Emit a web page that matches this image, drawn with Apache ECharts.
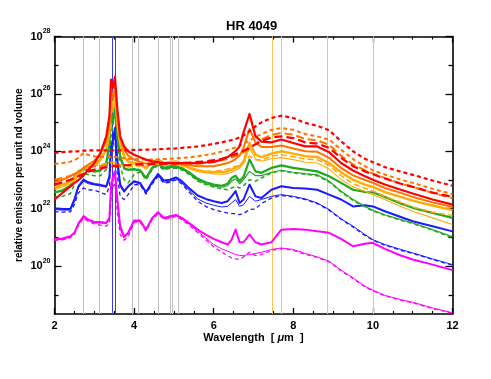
<!DOCTYPE html>
<html>
<head>
<meta charset="utf-8">
<script src="https://cdn.jsdelivr.net/npm/echarts@6/dist/echarts.min.js"></script>
<style>
html,body{margin:0;padding:0;background:#fff;}
#chart{width:491px;height:379px;}
</style>
</head>
<body>
<div id="chart"></div>
<script>
// Wavelength grid (micron)
const wavelength = [2.0,2.2,2.4,2.5,2.6,2.73,2.85,3.0,3.15,3.3,
  3.38,3.42,3.47,3.52,3.58,3.65,3.75,3.85,4.0,
  4.15,4.3,4.45,4.6,4.75,4.9,5.05,5.2,5.4,5.6,5.8,
  6.0,6.2,6.35,6.45,6.55,6.65,6.75,6.9,7.05,7.2,
  7.45,7.7,8.0,8.3,8.6,8.9,9.2,9.5,
  9.8,10.0,10.3,10.7,11.0,11.5,12.0];

// log10 of relative emission per unit volume
const redDotted = [23.94,23.97,23.99,24.00,24.00,24.02,24.03,24.03,24.03,24.03,
  24.03,24.03,24.03,24.03,24.03,24.03,24.03,24.03,24.05,
  24.05,24.06,24.06,24.07,24.08,24.09,24.10,24.12,24.14,24.17,24.21,
  24.26,24.31,24.36,24.39,24.43,24.48,24.55,24.70,24.87,25.01,
  25.16,25.24,25.16,24.99,24.89,24.73,24.35,24.00,
  23.74,23.62,23.45,23.29,23.18,22.98,22.80];
const redDashed = [22.84,22.92,23.01,23.07,23.13,23.22,23.29,23.36,23.41,23.44,
  23.45,23.47,23.48,23.48,23.49,23.50,23.51,23.52,23.54,
  23.55,23.55,23.56,23.56,23.57,23.57,23.58,23.59,23.61,23.63,23.65,
  23.69,23.74,23.80,23.85,23.90,23.95,24.02,24.13,24.24,24.35,
  24.48,24.52,24.46,24.31,24.27,24.12,23.77,23.48,
  23.30,23.20,23.05,22.87,22.76,22.56,22.41];
const redSolid = [22.32,22.55,22.78,22.90,22.99,23.16,23.36,23.59,23.92,24.52,
  25.22,26.50,26.21,26.59,25.45,24.52,24.17,24.00,23.88,
  23.79,23.71,23.65,23.62,23.59,23.59,23.59,23.59,23.59,23.59,23.61,
  23.63,23.71,23.80,23.90,24.01,24.17,24.66,25.30,24.52,24.34,
  24.31,24.41,24.29,24.17,24.17,23.97,23.59,23.33,
  23.13,23.01,22.84,22.66,22.53,22.32,22.14];
const orangeDotted = [23.56,23.59,23.64,23.69,23.77,23.94,23.87,23.83,23.80,23.80,
  23.80,23.80,23.80,23.80,23.79,23.78,23.76,23.74,23.73,
  23.72,23.71,23.71,23.72,23.73,23.74,23.76,23.77,23.79,23.83,23.87,
  23.92,23.99,24.05,24.09,24.14,24.20,24.27,24.38,24.50,24.60,
  24.75,24.81,24.75,24.60,24.52,24.41,24.06,23.73,
  23.48,23.34,23.19,23.01,22.90,22.69,22.51];
const orangeDashed = [23.01,23.07,23.15,23.21,23.28,23.40,23.44,23.48,23.49,23.50,
  23.50,23.50,23.51,23.51,23.51,23.51,23.52,23.52,23.52,
  23.52,23.52,23.54,23.54,23.54,23.54,23.55,23.55,23.56,23.57,23.59,
  23.63,23.69,23.73,23.78,23.83,23.88,23.97,24.09,24.26,24.41,
  24.57,24.64,24.58,24.43,24.38,24.23,23.85,23.54,
  23.34,23.22,23.07,22.87,22.76,22.55,22.37];
const orangeSolid = [22.92,23.01,23.13,23.21,23.28,23.42,23.54,23.67,23.91,24.35,
  24.99,26.15,25.86,26.29,25.28,24.46,24.06,23.85,23.71,
  23.63,23.57,23.59,23.62,23.57,23.59,23.59,23.55,23.51,23.48,23.48,
  23.48,23.54,23.59,23.65,23.73,23.85,24.12,24.78,24.31,24.15,
  24.15,24.20,24.10,24.00,23.98,23.77,23.42,23.16,
  23.00,22.90,22.72,22.55,22.41,22.22,22.06];
const yellowThick = [22.76,22.84,22.96,23.07,23.25,23.42,23.48,23.54,23.71,24.06,
  24.64,25.80,25.51,25.97,24.99,24.29,23.83,23.65,23.59,
  23.57,23.42,23.62,23.71,23.59,23.63,23.65,23.56,23.42,23.34,23.29,
  23.27,23.27,23.30,23.36,23.42,23.48,23.65,24.29,23.88,23.80,
  23.92,24.00,23.92,23.83,23.80,23.59,23.27,23.01,
  22.84,22.76,22.58,22.41,22.28,22.11,21.95];
const yellowThin = [22.66,22.76,22.87,22.99,23.15,23.36,23.42,23.48,23.65,24.00,
  24.52,25.63,25.34,25.80,24.81,24.17,23.77,23.62,23.56,
  23.54,23.38,23.57,23.65,23.56,23.59,23.62,23.52,23.38,23.29,23.25,
  23.21,23.20,23.22,23.27,23.34,23.41,23.57,24.12,23.73,23.65,
  23.74,23.78,23.71,23.62,23.59,23.38,23.01,22.76,
  22.61,22.49,22.32,22.08,21.91,21.68,21.45];
const yellowDashed = [22.71,22.80,22.92,23.04,23.19,23.38,23.44,23.50,23.54,23.57,
  23.59,23.62,23.63,23.63,23.59,23.54,23.48,23.45,23.48,
  23.50,23.48,23.54,23.57,23.54,23.55,23.56,23.50,23.42,23.34,23.30,
  23.30,23.34,23.38,23.42,23.48,23.50,23.59,23.83,23.71,23.69,
  23.83,23.88,23.81,23.73,23.71,23.50,23.15,22.87,
  22.71,22.62,22.43,22.22,22.06,21.88,21.76];
const greenThick = [22.57,22.64,22.80,23.11,23.30,23.38,23.36,23.30,23.34,23.59,
  24.29,25.28,25.04,25.74,24.64,23.83,23.42,23.36,23.38,
  23.34,23.07,23.42,23.59,23.42,23.48,23.48,23.42,23.25,23.04,22.92,
  22.84,22.80,22.87,23.07,23.15,22.96,23.11,23.71,23.30,23.25,
  23.42,23.51,23.42,23.36,23.30,23.13,22.90,22.66,
  22.58,22.57,22.41,22.18,22.03,21.85,21.68];
const greenThin = [22.55,22.62,22.78,23.07,23.27,23.36,23.34,23.28,23.30,23.56,
  24.23,25.16,24.93,25.63,24.52,23.73,23.38,23.34,23.36,
  23.32,23.05,23.38,23.55,23.38,23.44,23.44,23.38,23.21,22.99,22.87,
  22.78,22.75,22.80,22.96,23.04,22.87,23.01,23.30,23.15,23.15,
  23.27,23.34,23.27,23.22,23.18,22.96,22.61,22.32,
  22.08,21.94,21.79,21.62,21.50,21.27,21.02];
const greenDashed = [22.41,22.43,22.53,22.84,23.07,23.22,23.19,23.15,23.15,23.36,
  23.83,24.52,24.99,25.22,24.29,23.48,23.01,22.90,23.19,
  23.28,23.01,23.35,23.51,23.35,23.41,23.41,23.35,23.18,22.96,22.84,
  22.75,22.69,22.66,22.72,22.78,22.72,22.80,23.01,22.96,23.07,
  23.25,23.32,23.25,23.20,23.15,22.93,22.58,22.29,
  22.06,21.92,21.77,21.60,21.48,21.25,20.99];
const blueThick = [22.01,21.99,21.99,22.32,22.78,23.01,22.92,22.86,22.83,22.78,
  23.13,24.17,24.41,24.81,23.71,22.84,22.61,22.78,22.96,
  22.90,22.57,22.92,23.21,22.98,23.01,23.09,22.96,22.69,22.46,22.34,
  22.26,22.20,22.26,22.43,22.61,22.20,22.32,22.84,22.43,22.37,
  22.66,22.78,22.72,22.70,22.66,22.49,22.32,22.08,
  22.12,22.08,21.91,21.71,21.56,21.39,21.21];
const blueThin = [21.97,21.95,21.95,22.26,22.72,22.96,22.87,22.83,22.79,22.75,
  23.01,23.94,24.17,24.64,23.48,22.78,22.57,22.75,22.92,
  22.86,22.55,22.89,23.15,22.92,22.96,23.04,22.90,22.61,22.34,22.20,
  22.12,22.06,22.08,22.20,22.32,22.08,22.14,22.43,22.26,22.32,
  22.43,22.49,22.43,22.34,22.20,21.97,21.65,21.39,
  21.10,20.92,20.75,20.58,20.46,20.25,20.05];
const blueDashed = [21.90,21.88,21.89,22.14,22.55,22.72,22.66,22.64,22.57,22.49,
  22.78,23.83,24.64,24.41,23.13,22.43,22.32,22.49,22.84,
  22.83,22.51,22.85,23.12,22.89,22.92,23.00,22.86,22.55,22.26,22.08,
  21.97,21.89,21.85,21.83,21.83,21.79,21.83,21.97,21.99,22.18,
  22.37,22.46,22.41,22.32,22.18,21.95,21.63,21.36,
  21.07,20.90,20.73,20.55,20.44,20.23,20.03];
const magentaThick = [20.95,20.96,21.04,21.16,21.48,21.74,21.62,21.54,21.54,21.50,
  21.68,22.78,23.13,23.30,22.32,21.39,21.02,21.16,21.59,
  21.59,21.27,21.67,21.88,21.68,21.74,21.78,21.68,21.48,21.27,21.10,
  20.95,20.83,20.75,20.92,21.27,20.83,20.83,21.10,20.83,20.75,
  20.83,21.27,21.29,21.27,21.21,21.16,20.95,20.69,
  20.78,20.81,20.60,20.37,20.23,20.05,19.86];
const magentaThin = [20.92,20.93,21.02,21.13,21.45,21.70,21.59,21.50,21.50,21.47,
  21.62,22.66,22.96,23.13,22.20,21.29,20.97,21.12,21.55,
  21.55,21.24,21.63,21.84,21.64,21.70,21.75,21.64,21.45,21.21,20.98,
  20.75,20.60,20.52,20.46,20.40,20.37,20.37,20.40,20.44,20.48,
  20.58,20.63,20.58,20.44,20.32,20.17,19.86,19.59,
  19.30,19.16,18.98,18.83,18.74,18.54,18.37];
const magentaDashed = [20.90,20.91,20.99,21.11,21.41,21.67,21.55,21.47,21.43,21.39,
  21.48,22.32,22.78,22.90,21.85,21.10,20.90,21.02,21.53,
  21.53,21.21,21.61,21.82,21.62,21.68,21.72,21.62,21.41,21.16,20.92,
  20.67,20.48,20.37,20.28,20.25,20.23,20.32,20.48,20.37,20.40,
  20.55,20.61,20.55,20.41,20.30,20.15,19.83,19.57,
  19.27,19.14,18.96,18.81,18.72,18.52,18.36];

// vertical reference lines (micron)
const grayLines = [2.73,3.13,3.96,4.11,4.61,4.90,4.96,5.10];
const blueLines = [3.44,3.53];
const tanLines = [7.46,7.69,8.85,10.0];

// axis ticks (log10 exponents)
const yMajorTicks = [20,22,24,26,28];
const yMinorTicks = [19,21,23,25,27];
const yMin = 18.33, yMax = 28;

const RED='#ff0000', ORANGE='#ff7200', YELLOW='#ffab0a', GREEN='#22a722', BLUE='#1a1aff', MAGENTA='#ff00ff';
const FONT = '"Liberation Sans", Arial, sans-serif';

const seriesDefs = [
  {d: magentaDashed, c: MAGENTA, w: 1.3, t: [4,3]},
  {d: magentaThin,   c: MAGENTA, w: 1,   t: 'solid'},
  {d: magentaThick,  c: MAGENTA, w: 2,   t: 'solid'},
  {d: blueDashed,    c: BLUE,    w: 1.3, t: [4,3]},
  {d: blueThin,      c: BLUE,    w: 1,   t: 'solid'},
  {d: blueThick,     c: BLUE,    w: 2,   t: 'solid'},
  {d: greenDashed,   c: GREEN,   w: 1.5, t: [4,3]},
  {d: greenThin,     c: GREEN,   w: 1.2, t: 'solid'},
  {d: greenThick,    c: GREEN,   w: 2.2, t: 'solid'},
  {d: yellowDashed,  c: YELLOW,  w: 1.6, t: [6,3]},
  {d: yellowThin,    c: YELLOW,  w: 1.1, t: 'solid'},
  {d: yellowThick,   c: YELLOW,  w: 2.4, t: 'solid'},
  {d: orangeDotted,  c: ORANGE,  w: 2,   t: [4,3]},
  {d: orangeDashed,  c: ORANGE,  w: 2,   t: [8,4]},
  {d: orangeSolid,   c: ORANGE,  w: 2,   t: 'solid'},
  {d: redDotted,     c: RED,     w: 2.2, t: [4,3]},
  {d: redDashed,     c: RED,     w: 2.2, t: [8,4]},
  {d: redSolid,      c: RED,     w: 2.2, t: 'solid'}
];

const markData = []
  .concat(grayLines.map(v => ({xAxis: v, lineStyle: {color: '#c2c2c2', width: 1, type: 'solid'}})))
  .concat(blueLines.map(v => ({xAxis: v, lineStyle: {color: '#3a3aff', width: 1, type: 'solid'}})))
  .concat(tanLines.map(v => ({xAxis: v, lineStyle: {color: '#ffc25a', width: 1, type: 'solid'}})));

const series = seriesDefs.map((s, i) => {
  const o = {
    type: 'line',
    showSymbol: false,
    symbol: 'none',
    silent: true,
    clip: true,
    data: wavelength.map((w, k) => [w, s.d[k]]),
    lineStyle: {color: s.c, width: s.w, type: s.t, cap: 'butt', join: 'round'},
    z: 3
  };
  if (i === 0) {
    o.markLine = {silent: true, symbol: ['none', 'none'], label: {show: false}, animation: false, data: markData, z: 1};
  }
  return o;
});

const axisLineStyle = {show: true, lineStyle: {color: '#000', width: 1.6}};

const chart = echarts.init(document.getElementById('chart'), null, {renderer: 'canvas'});
chart.setOption({
  animation: false,
  backgroundColor: '#fff',
  grid: {left: 54.5, right: 38.5, top: 36.5, bottom: 65, containLabel: false, outerBoundsMode: 'none'},
  graphic: [{
    type: 'text', left: 226, top: 20,
    style: {text: 'HR 4049', font: 'bold 13px ' + FONT, fill: '#000'}
  }],
  xAxis: [{
    type: 'value', position: 'bottom', min: 2, max: 12, interval: 2,
    axisLine: axisLineStyle,
    axisTick: {show: true, inside: true, length: 6, lineStyle: {color: '#000', width: 1.3}},
    minorTick: {show: true, splitNumber: 4, length: 3, lineStyle: {color: '#000', width: 1.1}},
    splitLine: {show: false}, minorSplitLine: {show: false},
    axisLabel: {margin: 6, fontSize: 11, fontWeight: 'bold', color: '#000', fontFamily: FONT},
    name: '{a|Wavelength  [ }{i|μ}{a|m  ]}', nameLocation: 'middle', nameGap: 18, nameMoveOverlap: false,
    nameTextStyle: {rich: {
      a: {fontSize: 11, fontWeight: 'bold', color: '#000', fontFamily: FONT},
      i: {fontSize: 11, fontWeight: 'bold', fontStyle: 'italic', color: '#000', fontFamily: FONT}
    }}
  }, {
    type: 'value', position: 'top', min: 2, max: 12, interval: 2,
    axisLine: axisLineStyle,
    axisTick: {show: true, inside: true, length: 6, lineStyle: {color: '#000', width: 1.3}},
    minorTick: {show: true, splitNumber: 4, length: 3, lineStyle: {color: '#000', width: 1.1}},
    splitLine: {show: false}, axisLabel: {show: false}
  }],
  yAxis: [{
    type: 'value', position: 'left', min: yMin, max: yMax,
    axisLine: axisLineStyle,
    axisTick: {show: true, inside: true, length: 7, customValues: yMajorTicks, lineStyle: {color: '#000', width: 1.3}},
    splitLine: {show: false},
    axisLabel: {
      customValues: yMajorTicks, margin: 4, color: '#000',
      formatter: v => '{b|10}{s|' + Math.round(v) + '}',
      rich: {
        b: {fontSize: 11, fontWeight: 'bold', fontFamily: FONT, color: '#000', lineHeight: 18},
        s: {fontSize: 7, fontWeight: 'bold', fontFamily: FONT, color: '#000', lineHeight: 9, verticalAlign: 'top'}
      }
    },
    name: 'relative emission per unit nd volume', nameLocation: 'middle', nameGap: 30, nameMoveOverlap: false,
    nameTextStyle: {fontSize: 10, fontWeight: 'bold', color: '#000', fontFamily: FONT}
  }, {
    type: 'value', position: 'left', min: yMin, max: yMax,
    axisLine: {show: false},
    axisTick: {show: true, inside: true, length: 4, customValues: yMinorTicks, lineStyle: {color: '#000', width: 1.3}},
    splitLine: {show: false}, axisLabel: {show: false}
  }, {
    type: 'value', position: 'right', min: yMin, max: yMax,
    axisLine: axisLineStyle,
    axisTick: {show: true, inside: true, length: 7, customValues: yMajorTicks, lineStyle: {color: '#000', width: 1.3}},
    splitLine: {show: false}, axisLabel: {show: false}
  }, {
    type: 'value', position: 'right', min: yMin, max: yMax,
    axisLine: {show: false},
    axisTick: {show: true, inside: true, length: 4, customValues: yMinorTicks, lineStyle: {color: '#000', width: 1.3}},
    splitLine: {show: false}, axisLabel: {show: false}
  }],
  series: series
});
</script>
</body>
</html>
